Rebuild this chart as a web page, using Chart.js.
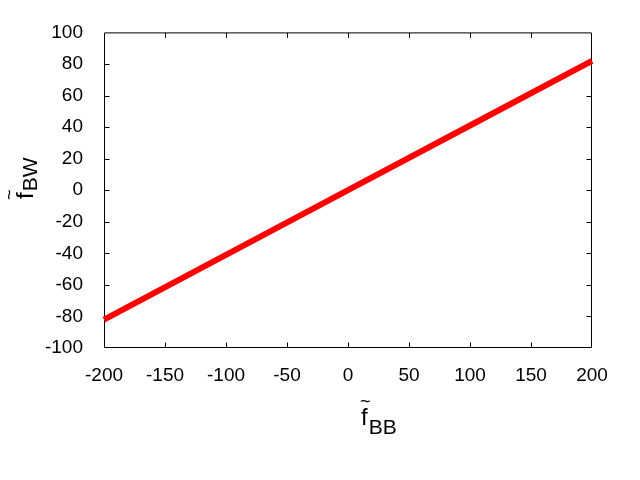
<!DOCTYPE html>
<html>
<head>
<meta charset="utf-8">
<script src="https://cdn.jsdelivr.net/npm/chart.js@4"></script>
<style>
  html, body { margin: 0; padding: 0; background: #fff; }
  #wrap { width: 640px; height: 480px; }
</style>
</head>
<body>
<div id="wrap"><canvas id="chart" width="640" height="480"></canvas></div>
<script>
// values
const fBB = [-200, -100, 0, 100, 200];
const fBW = [-82, -41, 0, 41, 82];
const xTicks = [-200, -150, -100, -50, 0, 50, 100, 150, 200];
const yTicks = [-100, -80, -60, -40, -20, 0, 20, 40, 60, 80, 100];

const FONT = "Liberation Sans, Arial, sans-serif";
const TICK_LEN = 5;

// gnuplot-like frame: border box with inward, mirrored ticks
const framePlugin = {
    id: "frame",
    beforeDatasetsDraw(chart) {
        const { ctx, chartArea: a, scales } = chart;
        const l = a.left + 0.5, r = a.right - 0.5, t = a.top + 0.5, b = a.bottom - 0.5;
        ctx.save();
        ctx.strokeStyle = "#000";
        ctx.lineWidth = 1;
        ctx.beginPath();
        ctx.rect(l, t, r - l, b - t);
        xTicks.slice(1, -1).forEach(v => {
            const x = Math.round(scales.x.getPixelForValue(v)) + 0.5;
            ctx.moveTo(x, b); ctx.lineTo(x, b - TICK_LEN);
            ctx.moveTo(x, t); ctx.lineTo(x, t + TICK_LEN);
        });
        yTicks.slice(1, -1).forEach(v => {
            const y = Math.round(scales.y.getPixelForValue(v)) + 0.5;
            ctx.moveTo(l, y); ctx.lineTo(l + TICK_LEN, y);
            ctx.moveTo(r, y); ctx.lineTo(r - TICK_LEN, y);
        });
        ctx.stroke();

        // axis titles: f with tilde and subscript
        ctx.fillStyle = "#000";
        ctx.textBaseline = "alphabetic";
        ctx.textAlign = "left";
        const drawTitle = (sub, subDrop) => {
            ctx.font = "24px " + FONT;
            const fw = ctx.measureText("f").width;
            ctx.fillText("f", 0, 0);
            ctx.font = "18px " + FONT;
            const tw = ctx.measureText("~").width;
            ctx.fillText("~", (fw - tw) / 2 + 1, -18);
            ctx.font = "21px " + FONT;
            ctx.fillText(sub, fw + 1, subDrop);
        };
        ctx.save();
        ctx.translate(361, 425);
        drawTitle("BB", 9);
        ctx.restore();
        ctx.save();
        ctx.translate(33, 199);
        ctx.rotate(-Math.PI / 2);
        drawTitle("BW", 4);
        ctx.restore();
        ctx.restore();
    },
};

new Chart(document.getElementById("chart"), {
    type: "line",
    data: {
        datasets: [{
            data: fBB.map((x, i) => ({ x, y: fBW[i] })),
            borderColor: "#ff0000",
            borderWidth: 6,
            pointRadius: 0,
            tension: 0,
            clip: false,
        }],
    },
    options: {
        responsive: false, animation: false,
        layout: { padding: { top: 32, right: 48, bottom: 0, left: 0 } },
        plugins: { legend: { display: false }, tooltip: { enabled: false } },
        scales: {
            x: {
                type: "linear", min: -200, max: 200,
                afterBuildTicks: s => { s.ticks = xTicks.map(value => ({ value })); },
                afterFit: s => { s.height = 132; },
                grid: { display: false, drawTicks: false },
                border: { display: false },
                ticks: { color: "#000", padding: 16, maxRotation: 0, font: { family: FONT, size: 19 } },
            },
            y: {
                type: "linear", min: -100, max: 100,
                afterBuildTicks: s => { s.ticks = yTicks.map(value => ({ value })); },
                afterFit: s => { s.width = 104; },
                grid: { display: false, drawTicks: false },
                border: { display: false },
                ticks: { color: "#000", padding: 21, font: { family: FONT, size: 19 } },
            },
        },
    },
    plugins: [framePlugin],
});
</script>
</body>
</html>
